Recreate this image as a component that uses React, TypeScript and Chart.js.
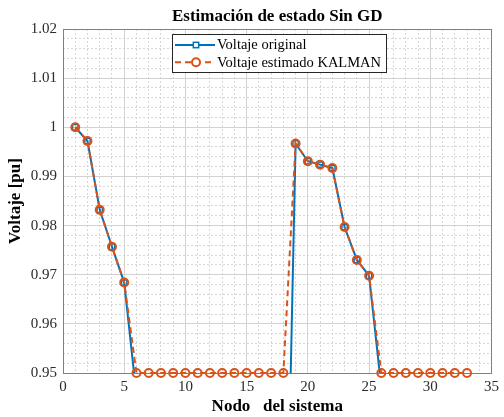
import React, { useEffect, useRef } from "react";
import { Chart, registerables } from "chart.js";

Chart.register(...registerables);

// ---------- data ----------
const nodes = [1, 2, 3, 4, 5, 6, 7, 8, 9, 10, 11, 12, 13, 14, 15, 16, 17, 18, 19, 20, 21, 22, 23, 24, 25, 26, 27, 28, 29, 30, 31, 32, 33];

const voltajeOriginal = [
  1.0, 0.9972, 0.9832, 0.9757, 0.9684, 0.9455,
  0.88, 0.88, 0.88, 0.88, 0.88, 0.88, 0.88, 0.88, 0.88, 0.88, 0.88, 0.88,
  0.9967, 0.9931, 0.9924, 0.9917, 0.9797, 0.973, 0.9698,
  0.947,
  0.88, 0.88, 0.88, 0.88, 0.88, 0.88, 0.88,
];

const voltajeKalman = [
  1.0, 0.9972, 0.9832, 0.9757, 0.9684, 0.95,
  0.95, 0.95, 0.95, 0.95, 0.95, 0.95, 0.95, 0.95, 0.95, 0.95, 0.95, 0.95,
  0.9967, 0.9931, 0.9924, 0.9917, 0.9797, 0.973, 0.9698,
  0.95,
  0.95, 0.95, 0.95, 0.95, 0.95, 0.95, 0.95,
];

const xTickValues = [0, 5, 10, 15, 20, 25, 30, 35];
const xTickLabels = ["0", "5", "10", "15", "20", "25", "30", "35"];
const yTickValues = [0.95, 0.96, 0.97, 0.98, 0.99, 1.0, 1.01, 1.02];
const yTickLabels = ["0.95", "0.96", "0.97", "0.98", "0.99", "1", "1.01", "1.02"];

const seriesLabels = ["Voltaje original", "Voltaje estimado KALMAN"];
const chartTitle = "Estimación de estado Sin GD";
const xTitle = "Nodo   del sistema";
const yTitle = "Voltaje [pu]";

// ---------- styles ----------
const SERIF = '"Liberation Serif", "Times New Roman", serif';
const BLUE = "#0072BD";
const ORANGE = "#D95319";
const AXIS = "#808080";
const MAJOR = "#d2d2d2";
const MINOR = "#d6d6d6";
const TICK = "#2b2b2b";

const boxLegend = {
  id: "boxLegend",
  afterDraw(chart: any) {
    const ctx = chart.ctx as CanvasRenderingContext2D;
    const a = chart.chartArea;
    const left = Math.round(a.left + 109);
    const top = Math.round(a.top + 5);
    ctx.save();
    ctx.font = `14.5px ${SERIF}`;
    const dsets = chart.data.datasets;
    const textOff = 45;
    const maxW = Math.max(...dsets.map((d: any) => ctx.measureText(d.label).width));
    const w = Math.round(textOff + maxW + 5);
    const h = 38;
    ctx.fillStyle = "#ffffff";
    ctx.fillRect(left, top, w, h);
    ctx.strokeStyle = "#262626";
    ctx.lineWidth = 1;
    ctx.strokeRect(left + 0.5, top + 0.5, w, h);
    dsets.forEach((ds: any, i: number) => {
      const y = top + 11 + i * 17.3;
      ctx.strokeStyle = ds.borderColor;
      ctx.lineWidth = ds.borderWidth;
      ctx.setLineDash(ds.borderDash || []);
      ctx.beginPath();
      ctx.moveTo(left + 3, y);
      ctx.lineTo(left + 43, y);
      ctx.stroke();
      ctx.setLineDash([]);
      const mx = left + 24;
      ctx.lineWidth = ds.pointBorderWidth;
      ctx.strokeStyle = ds.borderColor;
      ctx.fillStyle = "#ffffff";
      if (ds.pointStyle === "rect") {
        const s = ds.pointRadius * Math.SQRT1_2;
        ctx.fillRect(mx - s, y - s, 2 * s, 2 * s);
        ctx.strokeRect(mx - s, y - s, 2 * s, 2 * s);
      } else {
        ctx.beginPath();
        ctx.arc(mx, y, ds.pointRadius, 0, Math.PI * 2);
        ctx.fill();
        ctx.stroke();
      }
      ctx.fillStyle = "#000000";
      ctx.textBaseline = "middle";
      ctx.textAlign = "left";
      ctx.fillText(ds.label, left + textOff, y + 0.5);
    });
    ctx.restore();
  },
};

export default function App() {
  const ref = useRef<HTMLCanvasElement | null>(null);

  useEffect(() => {
    if (!ref.current) return;
    const tickFont = { family: SERIF, size: 15 };
    const titleFont = { family: SERIF, size: 17, weight: "bold" as const };

    const chart = new Chart(ref.current, {
      type: "line",
      data: {
        datasets: [
          {
            label: seriesLabels[0],
            data: nodes.map((n, i) => ({ x: n, y: voltajeOriginal[i] })),
            borderColor: BLUE,
            backgroundColor: BLUE,
            borderWidth: 2,
            pointStyle: "rect",
            pointRadius: 3.8,
            pointBorderWidth: 1.5,
            pointBorderColor: BLUE,
            pointBackgroundColor: "rgba(0,0,0,0)",
            tension: 0,
            clip: 0,
            order: 2,
            xAxisID: "x",
            yAxisID: "y",
          } as any,
          {
            label: seriesLabels[1],
            data: nodes.map((n, i) => ({ x: n, y: voltajeKalman[i] })),
            borderColor: ORANGE,
            backgroundColor: ORANGE,
            borderWidth: 2,
            borderDash: [6, 4],
            pointStyle: "circle",
            pointRadius: 4,
            pointBorderWidth: 2,
            pointBorderColor: ORANGE,
            pointBackgroundColor: "rgba(0,0,0,0)",
            tension: 0,
            clip: { left: 8, top: 8, right: 8, bottom: 8 },
            order: 1,
            xAxisID: "x",
            yAxisID: "y",
          } as any,
        ],
      },
      options: {
        responsive: false,
        devicePixelRatio: 1,
        animation: false,
        layout: { padding: 0 },
        plugins: {
          legend: { display: false },
          tooltip: { enabled: false },
          title: { display: false },
        },
        scales: {
          x: {
            type: "linear",
            position: "bottom",
            min: 0,
            max: 35,
            weight: 1,
            afterBuildTicks: (s: any) => {
              s.ticks = xTickValues.map((v) => ({ value: v }));
            },
            afterFit: (s: any) => {
              s.height = 44;
            },
            ticks: {
              callback: (_v: any, i: number) => xTickLabels[i],
              font: tickFont,
              color: TICK,
              padding: 5,
              maxRotation: 0,
              autoSkip: false,
            },
            grid: { color: MAJOR, drawTicks: false, lineWidth: 1 },
            border: { color: AXIS, width: 1 },
            title: {
              display: true,
              text: xTitle,
              font: titleFont,
              color: "#000",
              padding: { top: 0, bottom: 0 },
            },
          },
          xMinor: {
            type: "linear",
            position: "bottom",
            min: 0,
            max: 35,
            weight: 0,
            afterBuildTicks: (s: any) => {
              const t = [];
              for (let k = 0; k <= 35; k++) t.push({ value: k });
              s.ticks = t;
            },
            afterFit: (s: any) => {
              s.height = 0;
            },
            ticks: { display: false },
            grid: {
              drawTicks: false,
              lineWidth: 1,
              color: (c: any) => (c.tick && c.tick.value % 5 === 0 ? "rgba(0,0,0,0)" : MINOR),
            },
            border: { display: false, dash: [2, 2] },
          },
          xTop: {
            type: "linear",
            position: "top",
            min: 0,
            max: 35,
            afterFit: (s: any) => {
              s.height = 29;
            },
            ticks: { display: false },
            grid: { drawOnChartArea: false, drawTicks: false },
            border: { color: AXIS, width: 1 },
            title: {
              display: true,
              text: chartTitle,
              font: titleFont,
              color: "#000",
              padding: { top: 6, bottom: 0 },
            },
          },
          y: {
            type: "linear",
            position: "left",
            min: 0.95,
            max: 1.02,
            weight: 1,
            afterBuildTicks: (s: any) => {
              s.ticks = yTickValues.map((v) => ({ value: v }));
            },
            afterFit: (s: any) => {
              s.width = 63;
            },
            ticks: {
              callback: (_v: any, i: number) => yTickLabels[i],
              font: tickFont,
              color: TICK,
              padding: 6,
            },
            grid: { color: MAJOR, drawTicks: false, lineWidth: 1 },
            border: { color: AXIS, width: 1 },
            title: {
              display: true,
              text: yTitle,
              font: titleFont,
              color: "#000",
              padding: { top: 5, bottom: 0 },
            },
          },
          yMinor: {
            type: "linear",
            position: "left",
            min: 0.95,
            max: 1.02,
            weight: 0,
            afterBuildTicks: (s: any) => {
              const t = [];
              for (let k = 0; k <= 35; k++) t.push({ value: 0.95 + k * 0.002 });
              s.ticks = t;
            },
            afterFit: (s: any) => {
              s.width = 0;
            },
            ticks: { display: false },
            grid: {
              drawTicks: false,
              lineWidth: 1,
              color: (c: any) => {
                if (!c.tick) return MINOR;
                const v = c.tick.value * 100;
                return Math.abs(v - Math.round(v)) < 1e-6 ? "rgba(0,0,0,0)" : MINOR;
              },
            },
            border: { display: false, dash: [2, 2] },
          },
          yRight: {
            type: "linear",
            position: "right",
            min: 0.95,
            max: 1.02,
            afterFit: (s: any) => {
              s.width = 8;
            },
            ticks: { display: false },
            grid: { drawOnChartArea: false, drawTicks: false },
            border: { color: AXIS, width: 1 },
          },
        } as any,
      },
      plugins: [boxLegend],
    });
    return () => chart.destroy();
  }, []);

  return (
    <div style={{ position: "fixed", left: 0, top: 0, width: 504, height: 417, background: "#fff" }}>
      <canvas ref={ref} width={504} height={417} style={{ display: "block" }} />
    </div>
  );
}
